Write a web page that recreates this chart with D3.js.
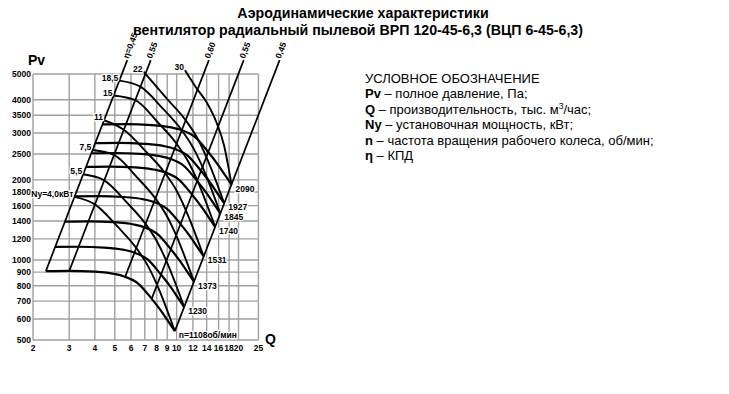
<!DOCTYPE html>
<html><head><meta charset="utf-8">
<script src="https://cdn.jsdelivr.net/npm/d3@7"></script>
<style>
html,body{margin:0;padding:0;background:#fff;}
svg{display:block;font-family:"Liberation Sans",Arial,sans-serif;}
</style></head>
<body><svg id="c" width="729" height="394"></svg>
<script>
// ---------- data ----------
const titleLines = ["Аэродинамические характеристики","вентилятор радиальный пылевой ВРП 120-45-6,3 (ВЦП 6-45-6,3)"];
const qTicks = [2,3,4,5,6,7,8,9,10,12,14,16,18,20,25];
const pTicks = [500,600,700,800,900,1000,1200,1400,1600,1800,2000,2500,3000,3500,4000,5000];

// speed curves (Q thousand m3/h, Pv Pa)
const speeds = ["n=1108об/мин","1230","1373","1531","1740","1845","1927","2090"];
const speedQ = [
 [2.31,3.0,4.0,5.0,5.6,6.5,7.5,8.5,9.2,9.8],
 [2.56,3.33,4.44,5.55,6.22,7.22,8.33,9.44,10.21,10.88],
 [2.86,3.72,4.96,6.20,6.94,8.05,9.29,10.53,11.40,12.14],
 [3.19,4.15,5.53,6.91,7.74,8.98,10.36,11.75,12.71,13.54],
 [3.63,4.71,6.28,7.85,8.79,10.21,11.78,13.35,14.45,15.39],
 [3.85,5.00,6.66,8.33,9.33,10.82,12.49,14.15,15.32,16.32],
 [4.02,5.22,6.96,8.70,9.74,11.30,13.04,14.78,16.00,17.04],
 [4.36,5.66,7.55,9.43,10.56,12.26,14.15,16.03,17.35,18.49]
];
const speedP = [
 [908,910,903,885,865,815,720,635,580,540],
 [1119,1121,1113,1091,1066,1004,887,783,715,665],
 [1394,1397,1387,1359,1328,1252,1106,975,891,829],
 [1734,1737,1724,1690,1652,1556,1375,1212,1107,1031],
 [2239,2244,2227,2182,2133,2010,1776,1566,1430,1332],
 [2518,2523,2504,2454,2398,2260,1996,1761,1608,1497],
 [2747,2753,2731,2677,2616,2465,2178,1921,1754,1633],
 [3231,3238,3213,3149,3078,2900,2562,2259,2064,1921]
];

// installed power curves
const powers = ["Ny=4,0кВт","5,5","7,5","11","15","18,5","22","30"];
const powerQ = [
 [3.18,4.00,5.16,6.36,7.26,8.03,9.8],
 [3.51,4.44,5.73,7.06,8.05,8.91,10.88],
 [3.89,4.96,6.40,7.88,8.99,9.95,12.14],
 [4.43,5.53,7.13,8.79,10.03,11.09,13.54],
 [4.93,6.29,8.11,9.99,11.40,12.61,15.39],
 [5.26,6.66,8.60,10.59,12.08,13.37,16.32],
 [6.90,8.98,11.06,12.62,13.96,17.04],
 [10.98,12.3,14.06,15.6,17.0,18.49]
];
const powerP = [
 [1726,1617,1333,1109,948,806,540],
 [2100,1992,1642,1366,1168,992,665],
 [2590,2481,2047,1703,1456,1237,829],
 [3350,3086,2544,2117,1811,1537,1031],
 [4150,3987,3286,2736,2339,1988,1332],
 [4720,4481,3694,3073,2627,2234,1497],
 [5100,4029,3352,2867,2436,1633],
 [5160,4500,3890,3300,2700,1921]
];

// efficiency lines: bottom and top points
const etaLabels = ["η=0,45","0,55","0,60","0,55","0,45"];
const etaQ = [[2.31,5.75],[3.0,7.48],[5.61,14.35],[7.55,21.2],[9.8,31.7]];
const etaP = [[908,5640],[908,5640],[862,5640],[712,5640],[540,5640]];

const legendLines = [
 [["УСЛОВНОЕ ОБОЗНАЧЕНИЕ",false]],
 [["Pv",true],[" – полное давление, Па;",false]],
 [["Q",true],[" – производительность, тыс. м",false],["3",false,"sup"],["/час;",false,"base"]],
 [["Ny",true],[" – установочная мощность, кВт;",false]],
 [["n",true],[" – частота вращения рабочего колеса, об/мин;",false]],
 [["η",true],[" – КПД",false]]
];

// ---------- drawing ----------
const svg = d3.select("#c");
const x = d3.scaleLog().domain([2,25]).range([33, 33 + 205.5*Math.log10(12.5)]);
const y = d3.scaleLog().domain([500,5000]).range([340,74]);

// title
svg.selectAll("text.title").data(titleLines).join("text")
  .attr("x",(d,i)=>i?358:363).attr("y",(d,i)=>i?35:18)
  .attr("text-anchor","middle").attr("font-weight","bold").attr("font-size",14.2)
  .text(d=>d);

// grid
const g = svg.append("g");
g.selectAll("line.v").data(qTicks).join("line")
  .attr("x1",d=>x(d)).attr("x2",d=>x(d)).attr("y1",y(500)).attr("y2",y(5000))
  .attr("stroke","#a0a0a0").attr("stroke-width",1.4);
g.selectAll("line.h").data(pTicks).join("line")
  .attr("x1",x(2)).attr("x2",x(25)).attr("y1",d=>y(d)).attr("y2",d=>y(d))
  .attr("stroke","#a0a0a0").attr("stroke-width",1.4);

// tick labels
g.selectAll("text.xt").data(qTicks).join("text")
  .attr("x",d=>x(d)).attr("y",351).attr("text-anchor","middle")
  .attr("font-size",8.5).attr("font-weight","bold").text(d=>d);
g.selectAll("text.yt").data(pTicks).join("text")
  .attr("x",31).attr("y",d=>y(d)+3).attr("text-anchor","end")
  .attr("font-size",8.5).attr("font-weight","bold").text(d=>d);
svg.append("text").attr("x",28).attr("y",65).attr("font-size",14).attr("font-weight","bold").text("Pv");
svg.append("text").attr("x",265).attr("y",344).attr("font-size",14).attr("font-weight","bold").text("Q");

const line = d3.line().x(d=>x(d[0])).y(d=>y(d[1])).curve(d3.curveMonotoneX);
const straight = d3.line().x(d=>x(d[0])).y(d=>y(d[1]));

// efficiency lines
etaQ.forEach((qs,i)=>{
  const pts = qs.map((q,j)=>[q,etaP[i][j]]);
  svg.append("path").attr("d",straight(pts)).attr("fill","none")
    .attr("stroke","#000").attr("stroke-width",1.7);
  const tx = x(qs[1]), ty = y(etaP[i][1]);
  svg.append("text").attr("transform",`translate(${tx+1},${ty-1}) rotate(-69)`)
    .attr("font-size",8.5).attr("font-weight","bold").text(etaLabels[i]);
});

// speed curves
speedQ.forEach((qs,i)=>{
  const pts = qs.map((q,j)=>[q,speedP[i][j]]);
  svg.append("path").attr("d",line(pts)).attr("fill","none")
    .attr("stroke","#000").attr("stroke-width",2.2);
});
// power curves
powerQ.forEach((qs,i)=>{
  const pts = qs.map((q,j)=>[q,powerP[i][j]]);
  svg.append("path").attr("d",line(pts)).attr("fill","none")
    .attr("stroke","#000").attr("stroke-width",1.9);
});

function halo(sel){return sel.attr("stroke","#fff").attr("stroke-width",2.5).attr("paint-order","stroke").attr("fill","#000");}
// power labels
powers.forEach((t,i)=>{
  halo(svg.append("text").attr("x",x(powerQ[i][0])-1).attr("y",y(powerP[i][0])).attr("text-anchor","end")
    .attr("font-size",8.5).attr("font-weight","bold").text(t));
});
// speed labels
speeds.forEach((t,i)=>{
  const k = speedQ[i].length-1;
  halo(svg.append("text").attr("x",x(speedQ[i][k])+4).attr("y",y(speedP[i][k])+7)
    .attr("font-size",8.5).attr("font-weight","bold").text(t));
});

// legend
const lg = svg.append("g");
legendLines.forEach((parts,i)=>{
  const t = lg.append("text").attr("x",365).attr("y",83 + i*15.4).attr("font-size",13);
  parts.forEach(p=>{
    const s = t.append("tspan").text(p[0]).attr("font-weight",p[1]?"bold":"normal");
    if(p[2]==="sup"){ s.attr("dy",-5).attr("font-size",8.5); }
    else if(p[2]==="base"){ s.attr("dy",5); }
  });
});
</script></body></html>
